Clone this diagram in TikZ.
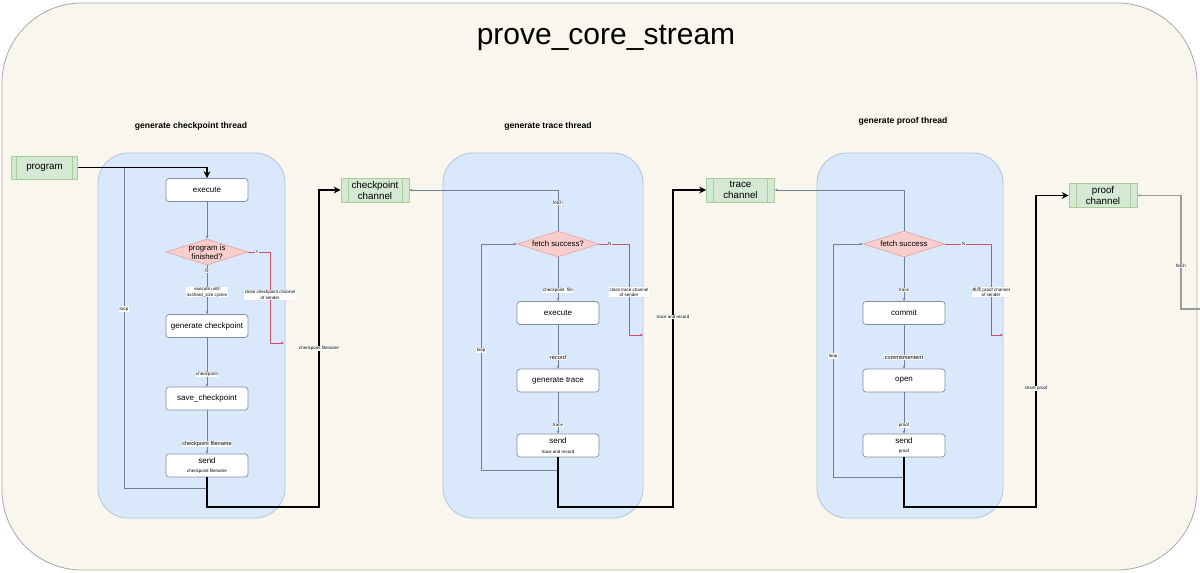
\documentclass[tikz,border=0pt]{standalone}
\usepackage{fontspec}
\setmainfont{Liberation Sans}
\newfontfamily\cjk{Noto Sans CJK SC}
\usetikzlibrary{shapes.geometric,arrows.meta}
\definecolor{outerfill}{HTML}{F9F7ED}
\definecolor{outerline}{HTML}{A8A8A8}
\definecolor{thrfill}{HTML}{DAE8FC}
\definecolor{thrline}{HTML}{AFC4E2}
\definecolor{boxline}{HTML}{858E9B}
\definecolor{decfill}{HTML}{F8CECC}
\definecolor{decline}{HTML}{E2A9A6}
\definecolor{chanfill}{HTML}{D5E8D4}
\definecolor{chanline}{HTML}{A9CC9C}
\definecolor{flowc}{HTML}{6F7F95}
\definecolor{redc}{HTML}{CC5068}
\definecolor{fetchg}{HTML}{9A9A9A}
\newcommand{\fsz}[2]{\fontsize{#1}{#2}\selectfont}
\begin{document}
\begin{tikzpicture}[x=1pt,y=-1pt,
  outerbox/.style={draw=outerline, line width=0.8pt, fill=outerfill, rounded corners=80pt},
  threadbox/.style={draw=thrline, line width=0.8pt, fill=thrfill, rounded corners=30pt},
  stepbox/.style={draw=boxline, line width=0.7pt, fill=white, rounded corners=3pt, minimum width=82, minimum height=23, inner sep=0, align=center, font=\fsz{8}{9}},
  decbox/.style={diamond, draw=decline, line width=0.7pt, fill=decfill, minimum width=82, minimum height=26, inner sep=0, aspect=3.15},
  dectext/.style={align=center, inner sep=0, font=\fsz{7.8}{8.8}},
  chanbox/.style={draw=chanline, line width=0.7pt, fill=chanfill, minimum width=68, minimum height=24, inner sep=0, align=center, font=\fsz{9.8}{11},
    path picture={\draw[chanline, line width=0.6pt] ([xshift=#1]path picture bounding box.north west) -- ([xshift=#1]path picture bounding box.south west);
                  \draw[chanline, line width=0.6pt] ([xshift=-#1]path picture bounding box.north east) -- ([xshift=-#1]path picture bounding box.south east);}},
  tlabel/.style={font=\bfseries\fsz{8.6}{10}, inner sep=0},
  elab/.style={font=\fsz{4.5}{5.4}, fill=white, inner sep=0.5pt, align=center},
  elabm/.style={font=\fsz{5.6}{6.6}, fill=white, inner sep=0.5pt, align=center},
  flow/.style={draw=flowc, line width=0.8pt, -{Stealth[length=3pt,width=2.6pt]}},
  flowplain/.style={draw=flowc, line width=0.8pt},
  redflow/.style={draw=redc, line width=0.7pt, -{Stealth[length=3pt,width=2.6pt]}},
  bigflow/.style={draw=black, line width=1.9pt, -{Stealth[length=7pt,width=7pt]}},
  grayflow/.style={draw=fetchg, line width=1.1pt, -{Stealth[length=3pt,width=2.6pt]}}
]
\useasboundingbox (0,0) rectangle (1200,573);
\fill[white] (0,0) rectangle (1200,573);
\draw[outerbox] (2,3) rectangle (1197,570);
\node[font=\fsz{30}{36}, inner sep=0] (title) at (606,38) {prove\_core\_stream};

% threads
\draw[threadbox] (98,153) rectangle (285,518);
\draw[threadbox] (443,153) rectangle (643,518);
\draw[threadbox] (817,153) rectangle (1003,518);
\node[tlabel] (t1) at (191,126) {generate checkpoint thread};
\node[tlabel] (t2) at (548,126) {generate trace thread};
\node[tlabel] (t3) at (903,121) {generate proof thread};

% channels
\node[chanbox=5pt, minimum width=66, minimum height=23] (prog) at (44.5,167.5) {program};
\node[chanbox=7pt] (ch1) at (375,190) {checkpoint\\channel};
\node[chanbox=7pt] (ch2) at (740.5,190) {trace\\channel};
\node[chanbox=7pt] (ch3) at (1103,195.5) {proof\\channel};

% left thread nodes
\node[stepbox] (exec1) at (207,190) {execute};
\node[decbox] (d1) at (207,252) {};
\node[dectext] (d1t) at (d1) {program is\\finished?};
\node[stepbox] (gen1) at (207,326) {generate checkpoint};
\node[stepbox] (save1) at (207,398.5) {save\_checkpoint};
\node[stepbox] (send1) at (207,465.5) {send\\[0.5pt]{\fsz{4.5}{5}checkpoint filename}};

% middle thread nodes
\node[decbox] (d2) at (558,244) {};
\node[dectext] (d2t) at (d2) {fetch success?};
\node[stepbox] (exec2) at (558,313) {execute};
\node[stepbox] (gen2) at (558,380.5) {generate trace};
\node[stepbox] (send2) at (558,445.5) {send\\[0.5pt]{\fsz{4.5}{5}trace and record}};

% right thread nodes
\node[decbox] (d3) at (904,244) {};
\node[dectext] (d3t) at (d3) {fetch success};
\node[stepbox] (commit3) at (904,313) {commit};
\node[stepbox] (open3) at (904,380.5) {open};
\node[stepbox] (send3) at (904,445.5) {send\\[0.5pt]{\fsz{4.5}{5}proof}};

% free ends
\coordinate (j1) at (124,168);
\coordinate (r1) at (284,343);
\coordinate (r2) at (643,335);
\coordinate (r3) at (1003,335);
\coordinate (fr) at (1200,309);

% ---- left thread connectors
\draw[flowplain] (send1.south) -- ++(0,11) -| node[elab, pos=0.78] {loop} (j1);
\draw[bigflow] (prog.east) -| (exec1.north);
\draw[flow] (exec1) -- (d1);
\draw[flow] (d1) -- node[elab, pos=0.12] {N} node[elab, pos=0.55] {execute until\\4xshard\_size cycles} (gen1);
\draw[flow] (gen1) -- node[elab, pos=0.75] {checkpoint} (save1);
\draw[flow] (save1) -- node[elabm, pos=0.77] {checkpoint filename} (send1);
\draw[redflow] (d1.east) -- node[elab, pos=0.4] {Y} (270,252) -- node[elab, pos=0.47] {close checkpoint channel\\of sender} (270,343) -- (r1);
\draw[bigflow] (send1.south) |- (319,507) |- node[elab, pos=0.25] {checkpoint filename} (ch1.west);

% ---- middle thread connectors
\draw[flow] (d2.north) |- node[elab, pos=0.34] {fetch} (ch1.east);
\draw[flow] (d2) -- node[elab, pos=0.75] {checkpoint\ \ file} (exec2);
\draw[redflow] (d2.east) -- node[elab, pos=0.35] {N} (629,244) -- node[elab, pos=0.53] {close trace channel\\of sender} (629,335) -- (r2);
\draw[flow] (exec2) -- node[elabm, pos=0.75] {record} (gen2);
\draw[flow] (gen2) -- node[elab, pos=0.8] {trace} (send2);
\draw[flow] (send2.south) -- ++(0,13) -| node[elab, pos=0.765] {loop} (481,244) -- (d2.west);
\draw[bigflow] (send2.south) |- (673,507) |- node[elab, pos=0.3] {trace and record} (ch2.west);

% ---- right thread connectors
\draw[flow] (d3.north) |- (ch2.east);
\draw[flow] (d3) -- node[elab, pos=0.75] {trace} (commit3);
\draw[redflow] (d3.east) -- node[elab, pos=0.4] {N} (991,244) -- node[elab, pos=0.53] {{\cjk 关闭} proof channel\\of sender} (991,335) -- (r3);
\draw[flow] (commit3) -- node[elabm, pos=0.75] {commitmentent} (open3);
\draw[flow] (open3) -- node[elab, pos=0.8] {proof} (send3);
\draw[flow] (send3.south) -- ++(0,20) -| node[elab, pos=0.76] {loop} (833,244) -- (d3.west);
\draw[bigflow] (send3.south) |- (1036,507) |- node[elab, pos=0.19] {share proof} (ch3.west);
\draw[grayflow] (fr) -- (1181,309) |- node[elab, pos=0.19] {fetch} (ch3.east);
\end{tikzpicture}
\end{document}
